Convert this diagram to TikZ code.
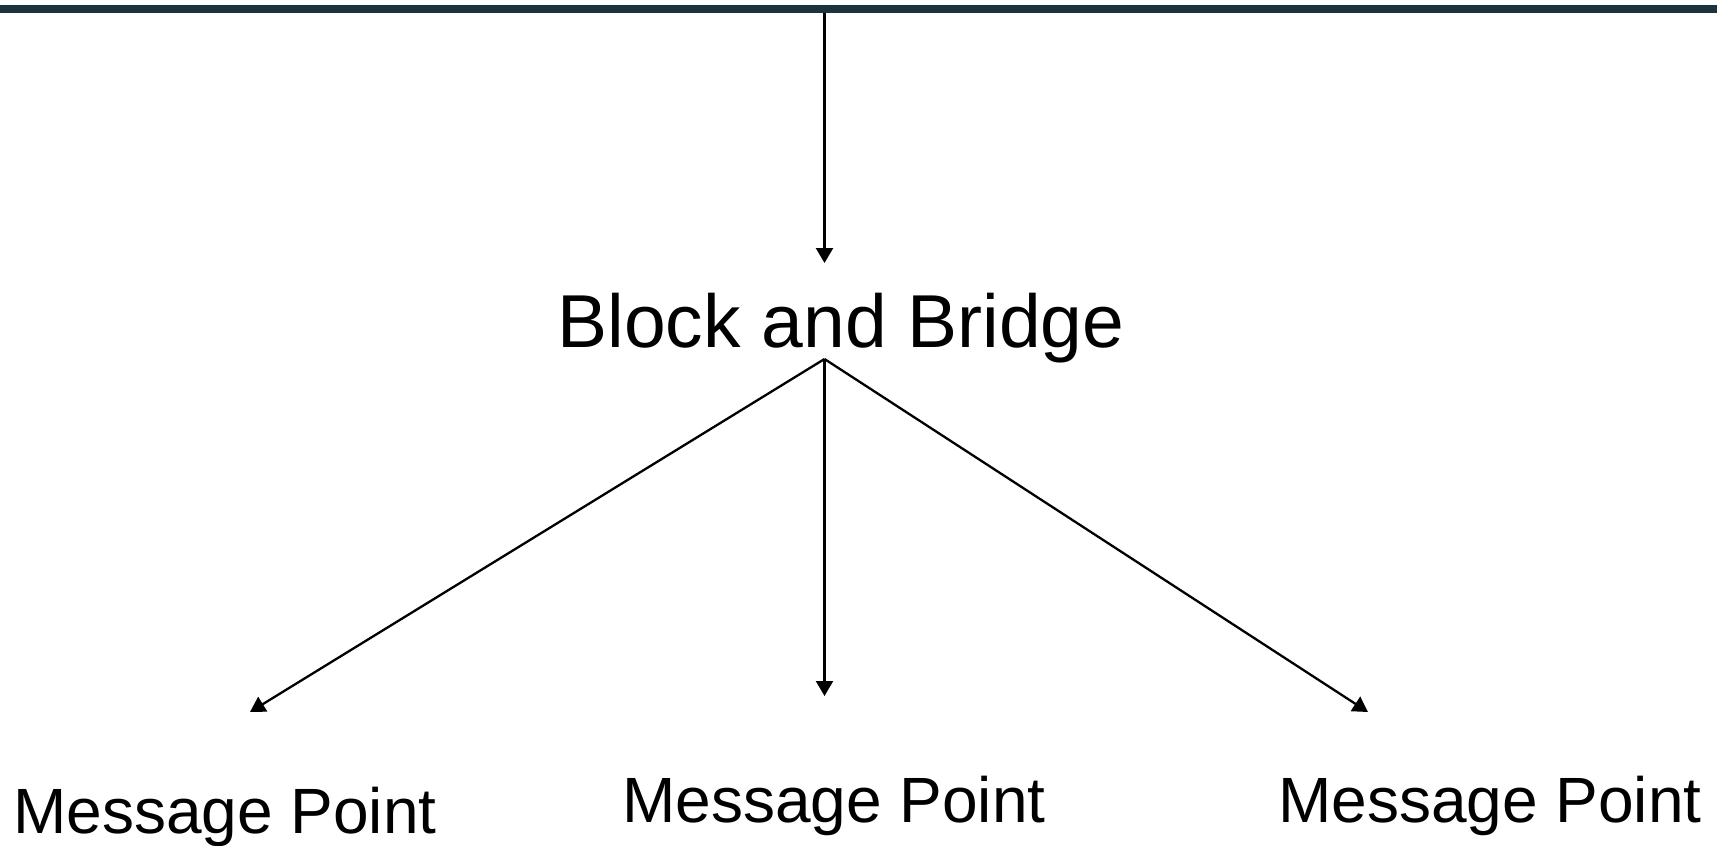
\documentclass[tikz,border=0pt]{standalone}
\usepackage{fontspec}
\setmainfont{Liberation Sans}
\usetikzlibrary{arrows.meta}
\definecolor{barcol}{HTML}{1B333D}
\begin{document}
\begin{tikzpicture}[x=1pt,y=-1pt,
  conn/.style={line width=2.3pt, -{Triangle[length=15pt,width=17pt]}},
  bigtext/.style={inner sep=0pt, anchor=base, font=\fontsize{75}{90}\selectfont},
  msgtext/.style={inner sep=0pt, anchor=base, font=\fontsize{64}{77}\selectfont}]
\useasboundingbox (0,0) rectangle (1717,846);
\node[fill=barcol, inner sep=0pt, minimum width=1717pt, minimum height=8.6pt, anchor=north west] (bar) at (0,4.4) {};
\node[bigtext] (block) at (841,347) {Block and Bridge};
\node[msgtext] (m1) at (225,833) {Message Point};
\node[msgtext] (m2) at (834,822) {Message Point};
\node[msgtext] (m3) at (1490,822) {Message Point};
\coordinate (top) at (824.5,13);
\coordinate (intip) at (824.5,263);
\coordinate (apex) at (824.5,359);
\coordinate (t1) at (250,712);
\coordinate (t2) at (824.5,696);
\coordinate (t3) at (1368,712);
\draw[conn] (top) -- (intip);
\draw[conn] (apex) -- (t1);
\draw[conn] (apex) -- (t2);
\draw[conn] (apex) -- (t3);
\end{tikzpicture}
\end{document}
